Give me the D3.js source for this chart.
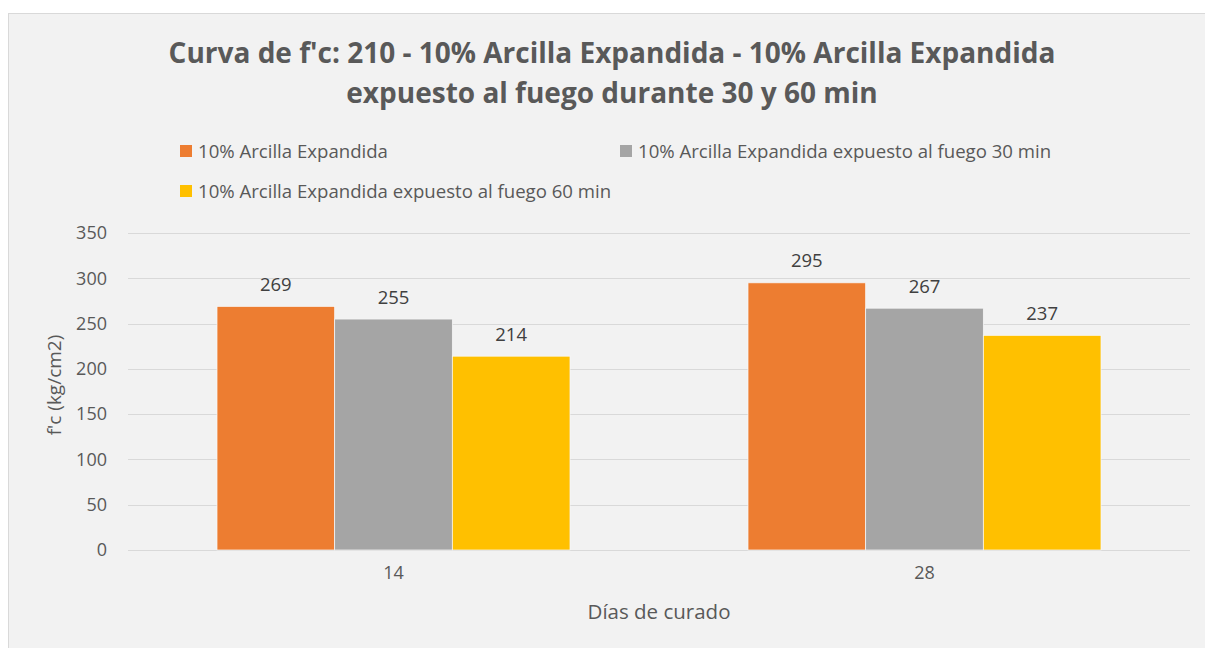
<!DOCTYPE html>
<html>
<head>
<meta charset="utf-8">
<script src="https://cdn.jsdelivr.net/npm/d3@7"></script>
<style>
  html, body { margin: 0; padding: 0; background: #ffffff; }
  svg { display: block; font-family: "Open Sans", "Noto Sans", sans-serif; }
</style>
</head>
<body>
<svg id="chart" width="1205" height="648"></svg>
<script>
// Curing ages (days) on the x axis
const categories = ["14", "28"];
// Series names as shown in the legend
const seriesNames = [
  "10% Arcilla Expandida",
  "10% Arcilla Expandida expuesto al fuego 30 min",
  "10% Arcilla Expandida expuesto al fuego 60 min"
];
// f'c values (kg/cm2) per series, one per curing age
const serieBase = [269, 295];
const serie30 = [255, 267];
const serie60 = [214, 237];
const seriesValues = [serieBase, serie30, serie60];
const seriesColors = ["#ED7D31", "#A5A5A5", "#FFC000"];
// Y-axis ticks
const yTicks = [0, 50, 100, 150, 200, 250, 300, 350];

const FONT = "\"Open Sans\", \"Noto Sans\", sans-serif";
const svg = d3.select("#chart");

// chart frame
svg.append("rect")
  .attr("x", 8.5).attr("y", 13.5)
  .attr("width", 1205).attr("height", 648)
  .attr("fill", "#f2f2f2")
  .attr("stroke", "#d9d9d9").attr("stroke-width", 1);

// title
const title = svg.append("text")
  .attr("text-anchor", "middle")
  .attr("fill", "#595959")
  .attr("font-weight", "bold")
  .attr("font-size", 28);
title.append("tspan").attr("x", 612).attr("y", 63)
  .text("Curva de f'c: 210 - 10% Arcilla Expandida - 10% Arcilla Expandida");
title.append("tspan").attr("x", 612).attr("y", 103)
  .text("expuesto al fuego durante 30 y 60 min");

// legend
const legendPos = [[180, 151], [620, 151], [180, 191]];
const legend = svg.append("g");
seriesNames.forEach((name, i) => {
  const [lx, ly] = legendPos[i];
  legend.append("rect")
    .attr("x", lx).attr("y", ly - 6)
    .attr("width", 12).attr("height", 12)
    .attr("fill", seriesColors[i]);
  legend.append("text")
    .attr("x", lx + 18).attr("y", ly)
    .attr("dy", "0.35em")
    .attr("font-size", 18.6)
    .attr("fill", "#595959")
    .text(name);
});

// plot area
const plot = { left: 128, right: 1190, top: 233, bottom: 550 };

const y = d3.scaleLinear()
  .domain([0, 350])
  .range([plot.bottom, plot.top]);

const x0 = d3.scaleBand()
  .domain(categories)
  .range([plot.left, plot.right])
  .paddingInner(0)
  .paddingOuter(0);

const groupFrac = 353 / 531;
const x1 = d3.scaleBand()
  .domain(d3.range(seriesNames.length))
  .range([0, x0.bandwidth() * groupFrac]);
const groupOffset = (x0.bandwidth() * (1 - groupFrac)) / 2;

// gridlines
svg.append("g")
  .selectAll("line")
  .data(yTicks)
  .join("line")
  .attr("x1", plot.left).attr("x2", plot.right)
  .attr("y1", d => Math.round(y(d)) + 0.5)
  .attr("y2", d => Math.round(y(d)) + 0.5)
  .attr("stroke", "#d9d9d9")
  .attr("stroke-width", 1);

// y axis labels
const yAxis = d3.axisLeft(y).tickValues(yTicks).tickSize(0).tickPadding(0);
const yg = svg.append("g")
  .attr("transform", `translate(${plot.left - 21},0)`)
  .call(yAxis);
yg.select(".domain").remove();
yg.selectAll("text")
  .attr("font-size", 18)
  .attr("font-family", FONT)
  .attr("fill", "#595959");

// x axis labels
const xAxis = d3.axisBottom(x0).tickSize(0).tickPadding(0);
const xg = svg.append("g")
  .attr("transform", `translate(0,${plot.bottom + 16})`)
  .call(xAxis);
xg.select(".domain").remove();
xg.selectAll("text")
  .attr("font-size", 18)
  .attr("font-family", FONT)
  .attr("fill", "#595959");

// bars
const groups = svg.append("g")
  .selectAll("g")
  .data(categories)
  .join("g")
  .attr("transform", d => `translate(${x0(d) + groupOffset},0)`);

groups.selectAll("rect")
  .data((d, ci) => seriesValues.map((vals, si) => ({ si, v: vals[ci] })))
  .join("rect")
  .attr("x", d => x1(d.si))
  .attr("width", x1.bandwidth())
  .attr("y", d => y(d.v))
  .attr("height", d => y(0) - y(d.v))
  .attr("fill", d => seriesColors[d.si])
  .attr("stroke", "#f7f7f7")
  .attr("stroke-width", 0.75);

// data labels
groups.selectAll("text")
  .data((d, ci) => seriesValues.map((vals, si) => ({ si, v: vals[ci] })))
  .join("text")
  .attr("x", d => x1(d.si) + x1.bandwidth() / 2)
  .attr("y", d => y(d.v) - 15.5)
  .attr("text-anchor", "middle")
  .attr("font-size", 18.5)
  .attr("fill", "#404040")
  .text(d => d.v);

// axis titles
svg.append("text")
  .attr("transform", `translate(61,385) rotate(-90)`)
  .attr("text-anchor", "middle")
  .attr("font-size", 19)
  .attr("fill", "#595959")
  .text("f'c (kg/cm2)");

svg.append("text")
  .attr("x", (plot.left + plot.right) / 2)
  .attr("y", 619)
  .attr("text-anchor", "middle")
  .attr("font-size", 20.5)
  .attr("fill", "#595959")
  .text("Días de curado");
</script>
</body>
</html>
